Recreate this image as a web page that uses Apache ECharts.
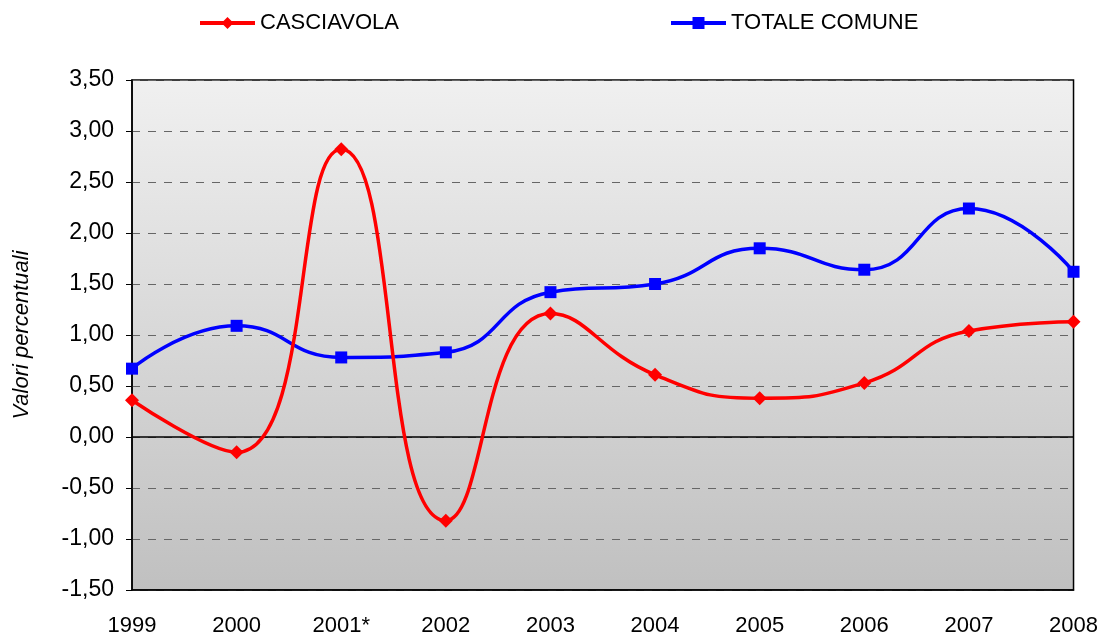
<!DOCTYPE html>
<html>
<head>
<meta charset="utf-8">
<script src="https://cdn.jsdelivr.net/npm/echarts@6/dist/echarts.min.js"></script>
<style>
  html, body { margin: 0; padding: 0; background: #fff; }
  #chart { width: 1101px; height: 637px; }
</style>
</head>
<body>
<div id="chart"></div>
<script>
const years = ["1999", "2000", "2001*", "2002", "2003", "2004", "2005", "2006", "2007", "2008"];
const casciavola = [0.36, -0.15, 2.82, -0.82, 1.21, 0.61, 0.38, 0.53, 1.04, 1.13];
const totaleComune = [0.67, 1.09, 0.78, 0.83, 1.42, 1.50, 1.85, 1.64, 2.24, 1.62];

const chart = echarts.init(document.getElementById("chart"));
const font = "Liberation Sans, Arial, sans-serif";

const legendBase = {
    top: 12, padding: 0,
    itemWidth: 55, itemHeight: 15, itemGap: 5,
    lineStyle: { width: 4 },
    textStyle: { fontSize: 22, color: "#000", fontFamily: font },
};

const option = {
    animation: false,
    textStyle: { fontFamily: font },
    legend: [
        Object.assign({}, legendBase, { data: ["CASCIAVOLA"], left: 198 }),
        Object.assign({}, legendBase, { data: ["TOTALE COMUNE"], left: 669 }),
    ],
    grid: {
        left: 132, right: 24, top: 80, bottom: 47,
        show: true,
        borderColor: "#000",
        borderWidth: 1.5,
        backgroundColor: new echarts.graphic.LinearGradient(0, 0, 0, 1, [
            { offset: 0, color: "#f0f0f0" },
            { offset: 1, color: "#c0c0c0" },
        ]),
    },
    xAxis: {
        type: "category",
        data: years,
        boundaryGap: false,
        axisLine: { onZero: false, lineStyle: { color: "#000", width: 1.5 } },
        axisTick: { show: false },
        axisLabel: { fontSize: 22, color: "#000", margin: 25, fontFamily: font },
        splitLine: { show: false },
    },
    yAxis: {
        type: "value",
        min: -1.5, max: 3.5, interval: 0.5,
        name: "Valori percentuali",
        nameLocation: "middle",
        nameGap: 99,
        nameTextStyle: { fontSize: 22, fontStyle: "italic", color: "#000", fontFamily: font },
        axisLine: { show: true, lineStyle: { color: "#000", width: 1.5 } },
        axisTick: { show: true, length: 6, lineStyle: { color: "#000" } },
        axisLabel: {
            fontSize: 23, color: "#000", margin: 18, fontFamily: font,
            formatter: (v) => v.toFixed(2).replace(".", ","),
        },
        splitLine: { show: true, lineStyle: { color: "#666", type: [8, 8], width: 1 } },
    },
    series: [
        {
            name: "CASCIAVOLA",
            type: "line",
            data: casciavola,
            smooth: true,
            symbol: "diamond",
            symbolSize: 14,
            color: "#ff0000",
            lineStyle: { width: 3.5, color: "#ff0000" },
            itemStyle: { color: "#ff0000" },
            z: 3,
            markLine: {
                silent: true,
                symbol: "none",
                label: { show: false },
                lineStyle: { color: "#000", type: "solid", width: 1.5 },
                data: [{ yAxis: 0 }],
                z: 1,
            },
        },
        {
            name: "TOTALE COMUNE",
            type: "line",
            data: totaleComune,
            smooth: true,
            symbol: "rect",
            symbolSize: 12,
            color: "#0000ff",
            lineStyle: { width: 3.5, color: "#0000ff" },
            itemStyle: { color: "#0000ff" },
            z: 2,
        },
    ],
};

chart.setOption(option);
window.addEventListener("resize", () => chart.resize());
</script>
</body>
</html>
